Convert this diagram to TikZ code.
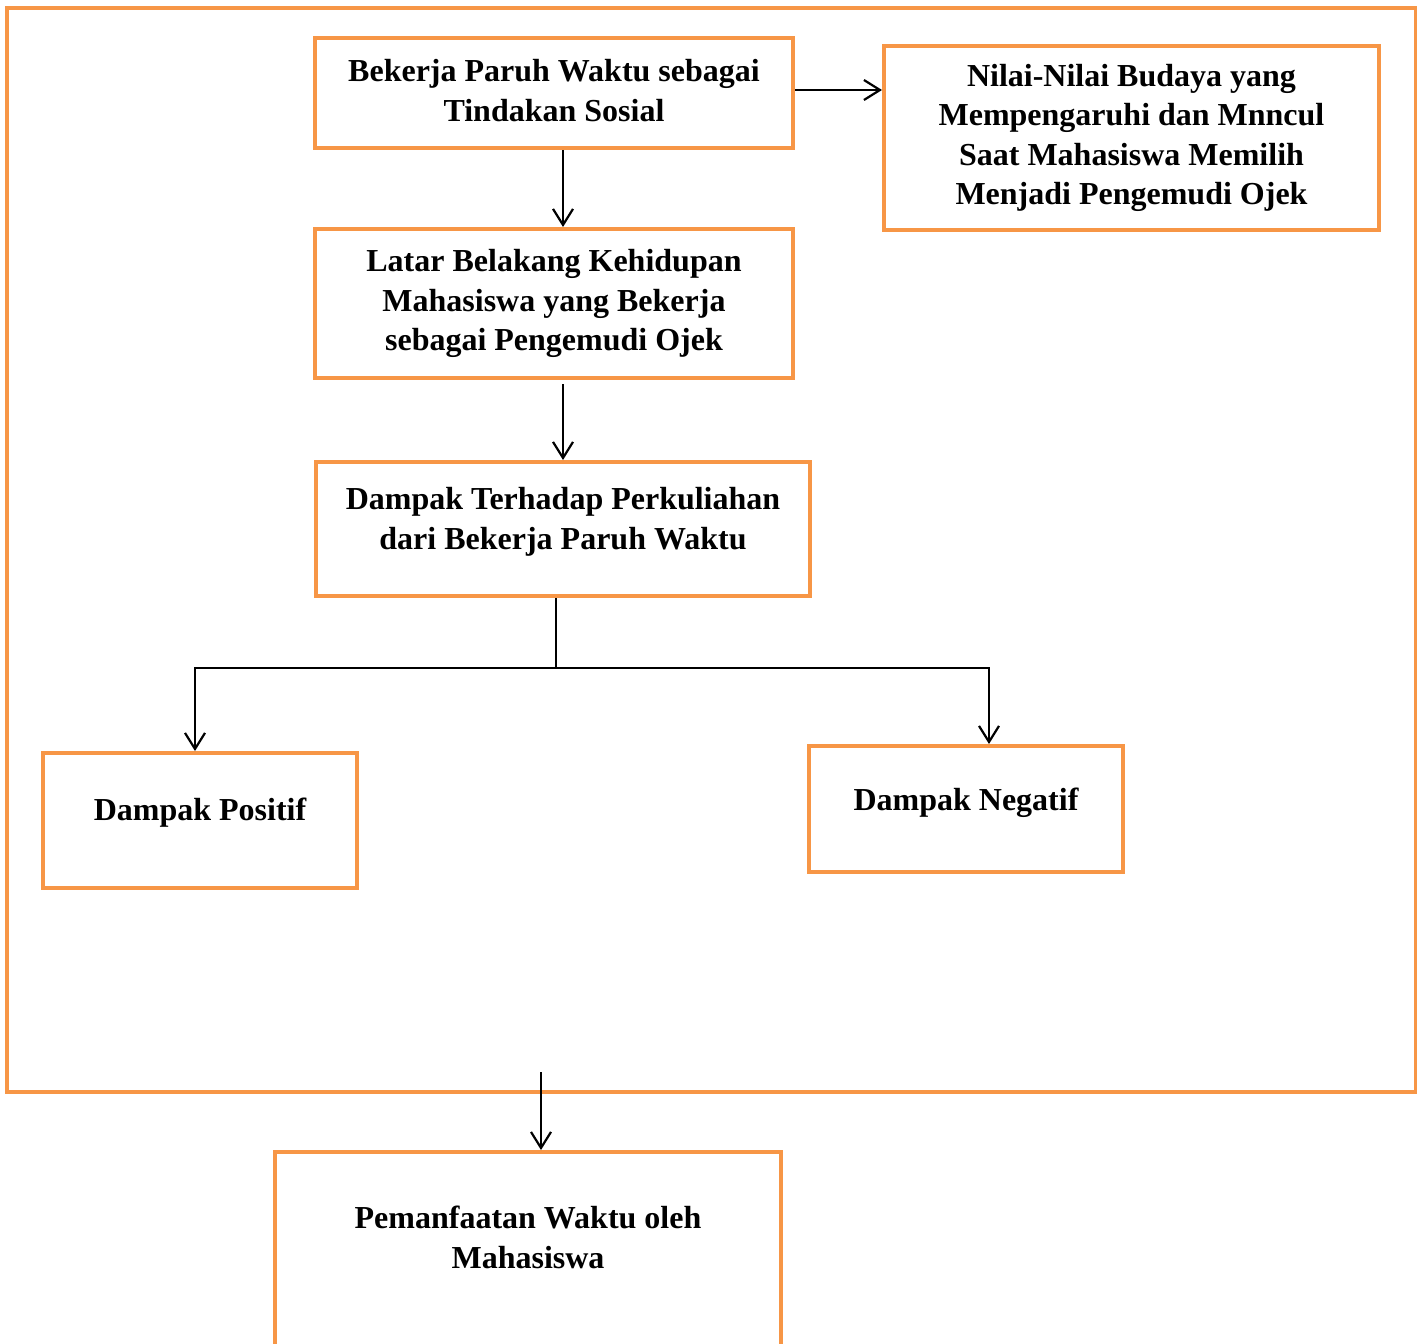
\documentclass[tikz,border=0pt]{standalone}
\usepackage{fontspec}
\setmainfont{Liberation Serif}
\usetikzlibrary{arrows.meta,calc}

\definecolor{oranye}{HTML}{F79646}

\tikzset{
  kotak/.style={draw=oranye, line width=2pt, rectangle, align=center,
    font=\fontsize{16}{19.75}\selectfont\bfseries, inner sep=0pt},
  panah/.style={line width=0.9pt, -{Straight Barb[length=8pt,width=10pt,line width=1.1pt]}},
  garis/.style={line width=0.9pt}
}

\begin{document}
\begin{tikzpicture}[x=0.5pt, y=-0.5pt]

  % Ukuran gambar (dalam piksel acuan)
  \useasboundingbox (0,0) rectangle (1417,1343);

  % Bingkai luar
  \draw[oranye, line width=2pt] (7,8) rectangle (1416,1092);

  % Kotak-kotak utama
  \node[kotak, minimum width=239pt, minimum height=55pt] (tindakan) at (554,93)
    {Bekerja Paruh Waktu sebagai\\Tindakan Sosial\\[-17pt]\mbox{}};
  \node[kotak, minimum width=247.5pt, minimum height=92pt] (nilai) at (1131.5,138)
    {Nilai-Nilai Budaya yang\\Mempengaruhi dan Mnncul\\Saat Mahasiswa Memilih\\Menjadi Pengemudi Ojek};
  \node[kotak, minimum width=239pt, minimum height=74.5pt] (latar) at (554,303.5)
    {Latar Belakang Kehidupan\\Mahasiswa yang Bekerja\\sebagai Pengemudi Ojek};
  \node[kotak, minimum width=247pt, minimum height=67pt] (dampak) at (563,529)
    {Dampak Terhadap Perkuliahan\\dari Bekerja Paruh Waktu\\[-9pt]\mbox{}};
  \node[kotak, minimum width=157pt, minimum height=67.5pt] (positif) at (200,820.5)
    {Dampak Positif\\[-8pt]\mbox{}};
  \node[kotak, minimum width=157pt, minimum height=63pt] (negatif) at (966,809)
    {Dampak Negatif\\[-10pt]\mbox{}};
  \node[kotak, minimum width=253pt, minimum height=98pt] (waktu) at (528,1250)
    {Pemanfaatan Waktu oleh\\Mahasiswa\\[-7pt]\mbox{}};

  % Titik bantu
  \coordinate (cabang) at (556,668);
  \coordinate (keluar) at (541,1072);

  % Penghubung
  \draw[panah] (tindakan.east |- 0,90) -- (nilai.west |- 0,90);
  \draw[panah] (tindakan.south -| dampak.north) -- (latar.north -| dampak.north);
  \draw[panah] ([yshift=-2pt]latar.south -| dampak.north) -- (dampak.north);
  \draw[garis] (dampak.south -| cabang) -- (cabang);
  \draw[panah] (cabang) -| ([xshift=-2.5pt]positif.north);
  \draw[panah] (cabang) -| ([xshift=11.5pt]negatif.north);
  \draw[panah] (keluar) -- (keluar |- waktu.north);

\end{tikzpicture}
\end{document}
